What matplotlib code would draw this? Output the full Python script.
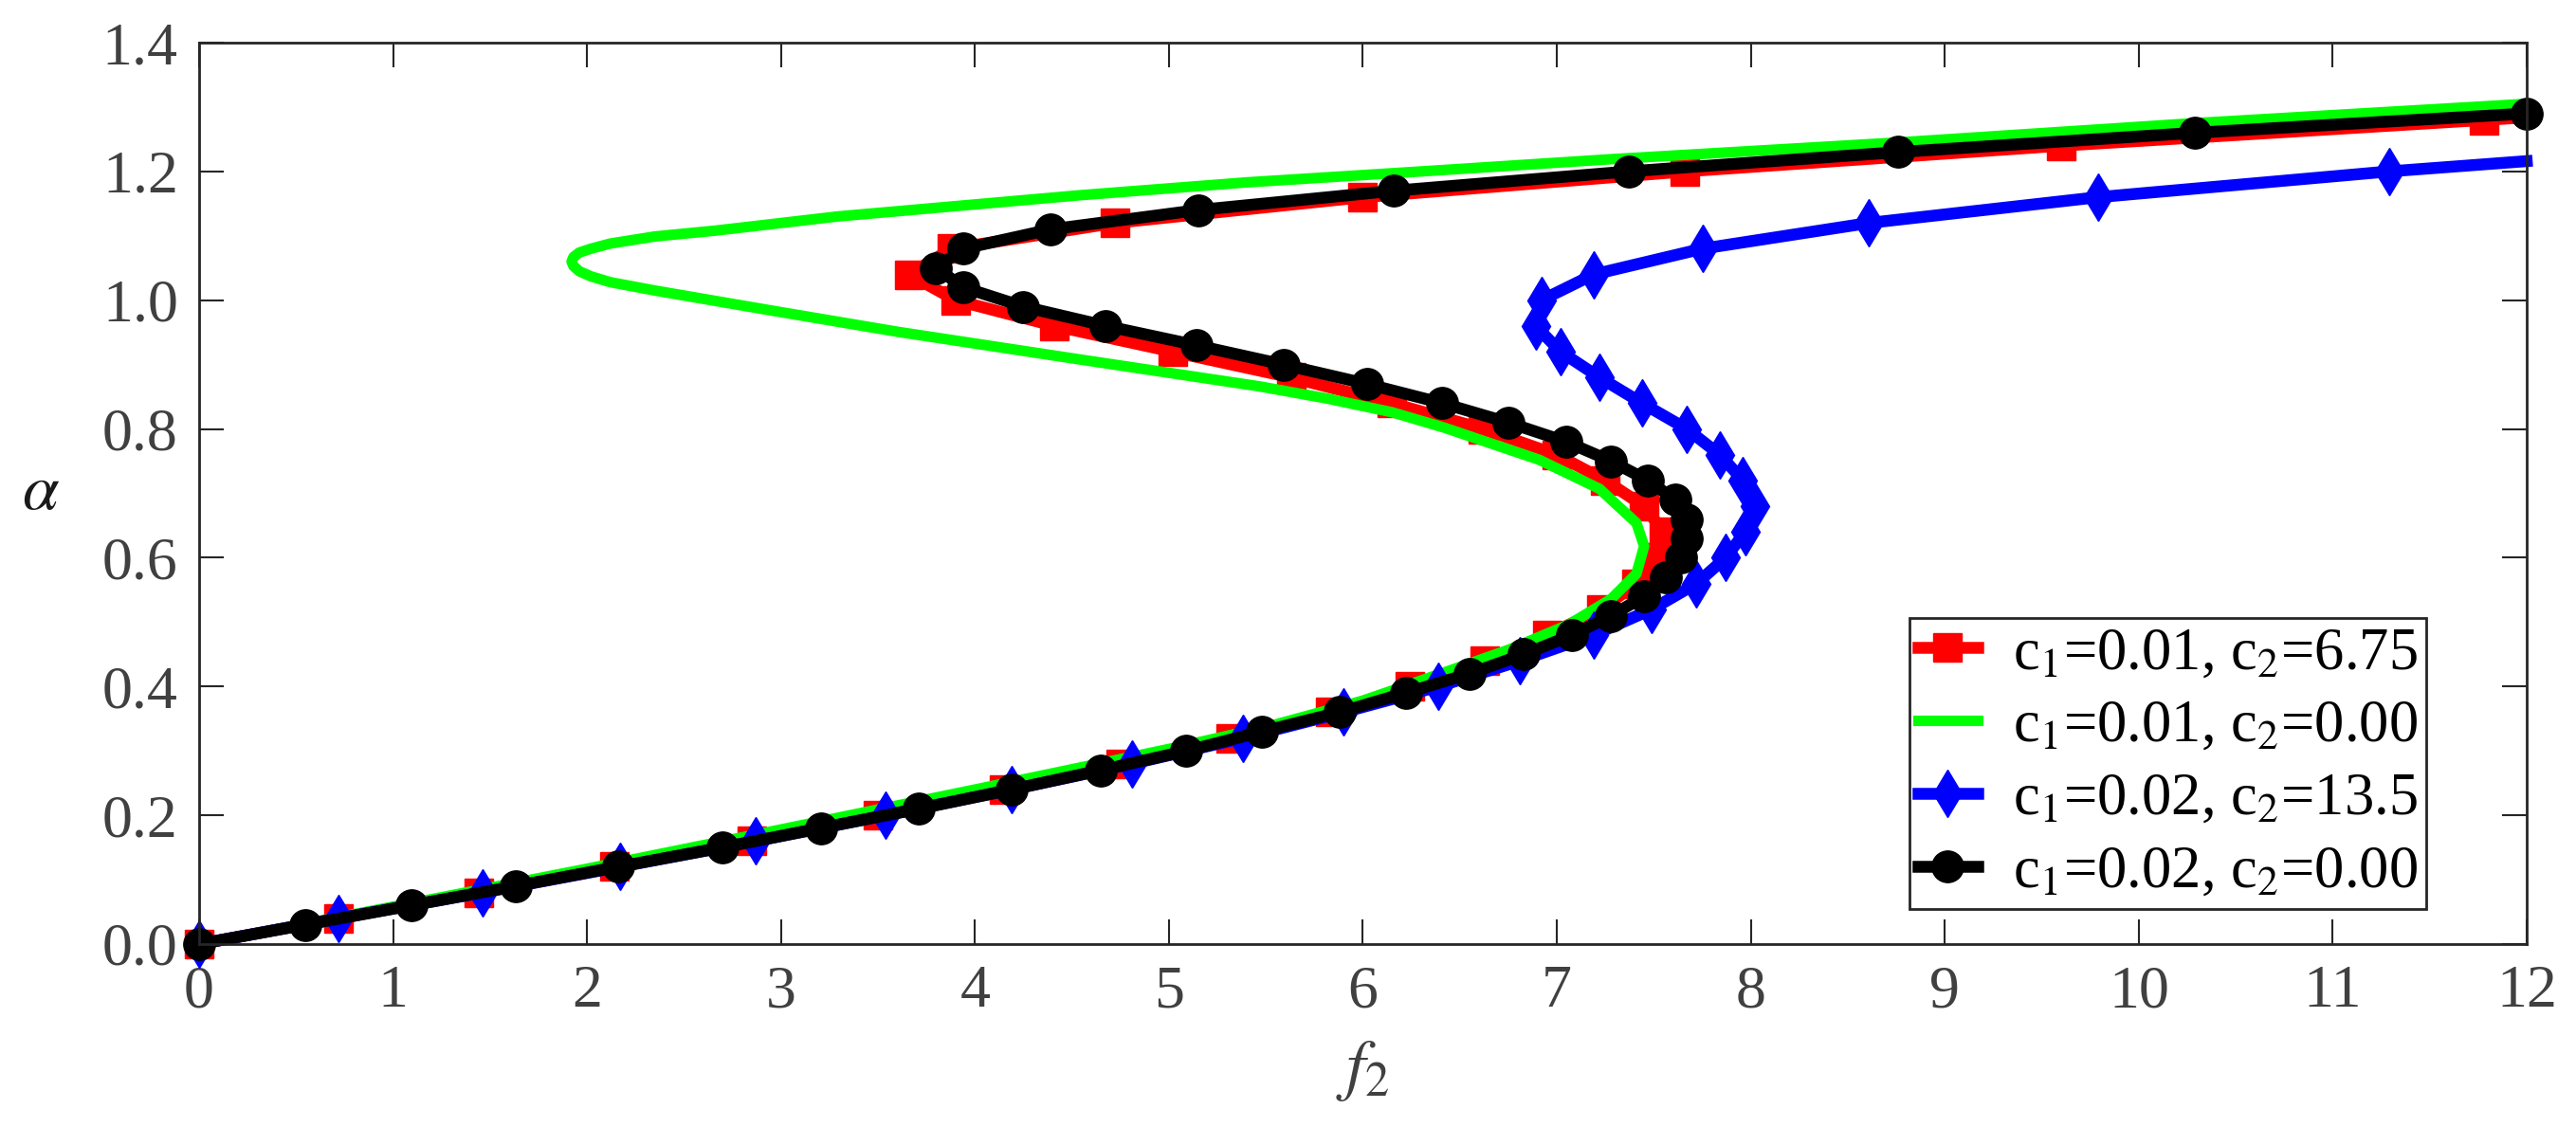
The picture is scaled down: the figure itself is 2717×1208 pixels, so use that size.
import matplotlib
matplotlib.use('Agg')
import matplotlib.pyplot as plt
from matplotlib.ticker import FormatStrFormatter

# values (f2, alpha)
red_x = [0.00, 0.72, 1.44, 2.14, 2.85, 3.50, 4.15, 4.75, 5.32, 5.83, 6.24,
         6.63, 6.95, 7.23, 7.41, 7.52, 7.55, 7.45, 7.25, 7.00, 6.62, 6.15,
         5.63, 5.02, 4.41, 3.90, 3.66, 3.88, 4.72, 6.00, 7.66, 9.60, 11.78, 12.00]
red_y = [0.00, 0.04, 0.08, 0.12, 0.16, 0.20, 0.24, 0.28, 0.32, 0.36, 0.40,
         0.44, 0.48, 0.52, 0.56, 0.60, 0.64, 0.68, 0.72, 0.76, 0.80, 0.84,
         0.88, 0.92, 0.96, 1.00, 1.04, 1.08, 1.12, 1.16, 1.20, 1.24, 1.28, 1.284]

green_x = [0.00, 1.00, 2.00, 3.00, 4.00, 5.00, 5.50, 6.00, 6.44, 6.75, 7.06,
           7.28, 7.41, 7.45, 7.41, 7.22, 6.91, 6.42, 6.15, 5.82, 5.47, 4.54, 3.60,
           2.95, 2.35, 2.12, 2.02, 1.96, 1.93, 1.92, 1.93, 1.96, 2.02, 2.12,
           2.35, 2.66, 3.29, 4.54, 5.40, 6.30, 7.28, 8.76, 10.29, 12.00]
green_y = [0.000, 0.058, 0.117, 0.178, 0.240, 0.303, 0.337, 0.378, 0.424, 0.457, 0.496,
           0.536, 0.575, 0.618, 0.654, 0.707, 0.752, 0.802, 0.826, 0.847, 0.866, 0.908, 0.951,
           0.984, 1.015, 1.028, 1.037, 1.045, 1.053, 1.060, 1.067, 1.074, 1.080, 1.088,
           1.099, 1.108, 1.130, 1.163, 1.183, 1.200, 1.219, 1.245, 1.275, 1.305]

blue_x = [0.00, 0.72, 1.46, 2.17, 2.87, 3.54, 4.19, 4.81, 5.38, 5.90, 6.39,
          6.81, 7.19, 7.49, 7.72, 7.87, 7.97, 8.02, 7.96, 7.84, 7.67, 7.44,
          7.22, 7.02, 6.89, 6.92, 7.19, 7.75, 8.61, 9.79, 11.29, 12.00]
blue_y = [0.00, 0.04, 0.08, 0.12, 0.16, 0.20, 0.24, 0.28, 0.32, 0.36, 0.40,
          0.44, 0.48, 0.52, 0.56, 0.60, 0.64, 0.68, 0.72, 0.76, 0.80, 0.84,
          0.88, 0.92, 0.96, 1.00, 1.04, 1.08, 1.12, 1.16, 1.20, 1.216]

black_x = [0.00, 0.547, 1.094, 1.633, 2.16, 2.70, 3.205, 3.71, 4.19, 4.65, 5.09,
           5.48, 5.88, 6.22, 6.55, 6.83, 7.08, 7.28, 7.45, 7.56, 7.64, 7.67,
           7.67, 7.61, 7.47, 7.28, 7.05, 6.75, 6.41, 6.02, 5.59, 5.14, 4.675,
           4.25, 3.94, 3.80, 3.94, 4.39, 5.15, 6.16, 7.37, 8.76, 10.29, 12.00]
black_y = [0.00, 0.03, 0.06, 0.09, 0.12, 0.15, 0.18, 0.21, 0.24, 0.27, 0.30,
           0.33, 0.36, 0.39, 0.42, 0.45, 0.48, 0.51, 0.54, 0.57, 0.60, 0.63,
           0.66, 0.69, 0.72, 0.75, 0.78, 0.81, 0.84, 0.87, 0.90, 0.93, 0.96,
           0.99, 1.02, 1.05, 1.08, 1.11, 1.14, 1.17, 1.20, 1.23, 1.26, 1.29]

labels = [r'c$_1$=0.01, c$_2$=6.75', r'c$_1$=0.01, c$_2$=0.00',
          r'c$_1$=0.02, c$_2$=13.5', r'c$_1$=0.02, c$_2$=0.00']

plt.rcParams['font.family'] = ['Liberation Serif', 'DejaVu Serif']
plt.rcParams['mathtext.fontset'] = 'stix'

fig = plt.figure(figsize=(27.17, 12.08), dpi=100)
ax = fig.add_axes([210 / 2717, 1 - 996 / 1208, 2455 / 2717, 951 / 1208])

ax.plot(red_x, red_y, color=(1, 0, 0), lw=9, marker='s', ms=21, mew=1,
        markevery=list(range(len(red_x) - 1)), clip_on=False, label=labels[0])
ax.plot(green_x, green_y, color=(0, 1, 0), lw=8, clip_on=False,
        solid_joinstyle='round', label=labels[1])
ax.plot(blue_x, blue_y, color=(0, 0, 1), lw=9, marker='d', ms=25, mew=1,
        markevery=list(range(len(blue_x) - 1)), clip_on=False, label=labels[2])
ax.plot(black_x, black_y, color='k', lw=9, marker='o', ms=24, mew=1,
        clip_on=False, label=labels[3])

ax.set_xlim(0, 12)
ax.set_ylim(0, 1.4)
ax.set_xticks(range(13))
ax.set_yticks([0.0, 0.2, 0.4, 0.6, 0.8, 1.0, 1.2, 1.4])
ax.yaxis.set_major_formatter(FormatStrFormatter('%.1f'))
ax.tick_params(direction='in', length=19, width=1.5, top=True, right=True,
               labelsize=46, labelcolor='#404040', color='#262626', pad=16)
for s in ax.spines.values():
    s.set_linewidth(2)
    s.set_color('#262626')

ax.set_xlabel(r'$f_2$', fontsize=52, color='#404040')
ax.xaxis.set_label_coords(0.5, -0.105)
ax.set_ylabel(r'$\alpha$', fontsize=50, rotation=0, color='#1a1a1a',
              ha='center', va='center')
ax.yaxis.set_label_coords(-0.068, 0.5)

leg = ax.legend(loc='lower right', bbox_to_anchor=(0.957, 0.039), borderaxespad=0,
                fontsize=45, fancybox=False, edgecolor='#262626', framealpha=1,
                borderpad=0.15, handlelength=1.0, handletextpad=0.6, labelspacing=0.3)
leg.get_frame().set_linewidth(2)

fig.savefig('out.png', dpi=100)
